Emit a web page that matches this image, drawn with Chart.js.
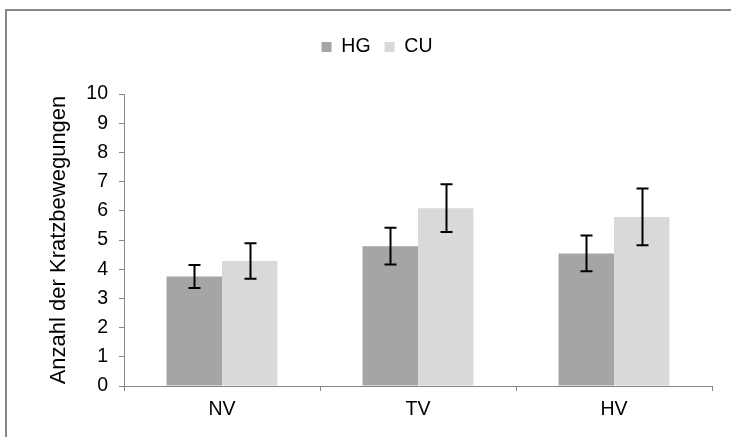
<!DOCTYPE html>
<html>
<head>
<meta charset="utf-8">
<script src="https://cdn.jsdelivr.net/npm/chart.js@4/dist/chart.umd.min.js"></script>
<style>
  html, body { margin: 0; padding: 0; background: #fff; }
  #wrap { width: 731px; height: 437px; position: relative; }
</style>
</head>
<body>
<div id="wrap"><canvas id="c" width="731" height="437"></canvas></div>
<script>
const categories = ['NV', 'TV', 'HV'];
const seriesNames = ['HG', 'CU'];
const hgMeans = [3.75, 4.79, 4.54];
const hgErrors = [0.39, 0.63, 0.61];
const cuMeans = [4.28, 6.09, 5.79];
const cuErrors = [0.61, 0.82, 0.97];
const yMin = 0, yMax = 10, yStep = 1;
const yTitle = 'Anzahl der Kratzbewegungen';

const FONT = '"Liberation Sans", Arial, sans-serif';
const AXIS = '#868686';

const framePlugin = {
  id: 'frame',
  beforeDraw(chart) {
    const ctx = chart.ctx;
    ctx.save();
    ctx.fillStyle = '#ffffff';
    ctx.fillRect(0, 0, chart.width, chart.height);
    ctx.strokeStyle = AXIS;
    ctx.lineWidth = 2;
    ctx.strokeRect(6, 10, chart.width + 20, chart.height + 20);
    ctx.restore();
  }
};

const errorBarPlugin = {
  id: 'errorBars',
  afterDatasetsDraw(chart) {
    const ctx = chart.ctx;
    const yScale = chart.scales.y;
    ctx.save();
    ctx.strokeStyle = '#000000';
    ctx.lineWidth = 2;
    chart.data.datasets.forEach((ds, i) => {
      const meta = chart.getDatasetMeta(i);
      meta.data.forEach((bar, j) => {
        const v = ds.data[j], e = ds.errors[j];
        const x = Math.round(bar.x) + 0.5;
        const yt = yScale.getPixelForValue(v + e);
        const yb = yScale.getPixelForValue(v - e);
        ctx.beginPath();
        ctx.moveTo(x, yt); ctx.lineTo(x, yb);
        ctx.moveTo(x - 6, yt); ctx.lineTo(x + 6, yt);
        ctx.moveTo(x - 6, yb); ctx.lineTo(x + 6, yb);
        ctx.stroke();
      });
    });
    ctx.restore();
  }
};

new Chart(document.getElementById('c'), {
  type: 'bar',
  data: {
    labels: categories,
    datasets: [
      { label: seriesNames[0], data: hgMeans, errors: hgErrors, backgroundColor: '#A5A5A5',
        categoryPercentage: 0.566, barPercentage: 1.0 },
      { label: seriesNames[1], data: cuMeans, errors: cuErrors, backgroundColor: '#D9D9D9',
        categoryPercentage: 0.566, barPercentage: 1.0 }
    ]
  },
  options: {
    responsive: false,
    animation: false,
    devicePixelRatio: 1,
    layout: { padding: { left: 42, right: 19, top: 23.25, bottom: 0 } },
    plugins: {
      legend: {
        position: 'top',
        labels: {
          boxWidth: 10, boxHeight: 10, padding: 14,
          color: '#000', font: { family: FONT, size: 19.5 }
        }
      },
      subtitle: {
        display: true, text: '', weight: 500, position: 'top',
        font: { size: 10, lineHeight: 1.2 }, padding: { top: 0, bottom: 15.25 }
      },
      tooltip: { enabled: false }
    },
    scales: {
      x: {
        grid: { display: true, drawOnChartArea: false, drawTicks: true, tickLength: 5, color: AXIS, offset: true },
        border: { display: true, color: AXIS, width: 1 },
        ticks: { color: '#000', font: { family: FONT, size: 19.5 }, padding: 7 },
        afterFit(scale) { scale.height = 51; }
      },
      y: {
        min: yMin, max: yMax,
        grid: { display: true, drawOnChartArea: false, drawTicks: true, tickLength: 5, color: AXIS },
        border: { display: true, color: AXIS, width: 1 },
        ticks: { stepSize: yStep, color: '#000', font: { family: FONT, size: 19.5 }, padding: 11 },
        title: { display: true, text: yTitle, color: '#000', font: { family: FONT, size: 22 }, padding: { top: 4, bottom: 0 } },
        afterFit(scale) { scale.width = 82; }
      }
    }
  },
  plugins: [framePlugin, errorBarPlugin]
});
</script>
</body>
</html>
